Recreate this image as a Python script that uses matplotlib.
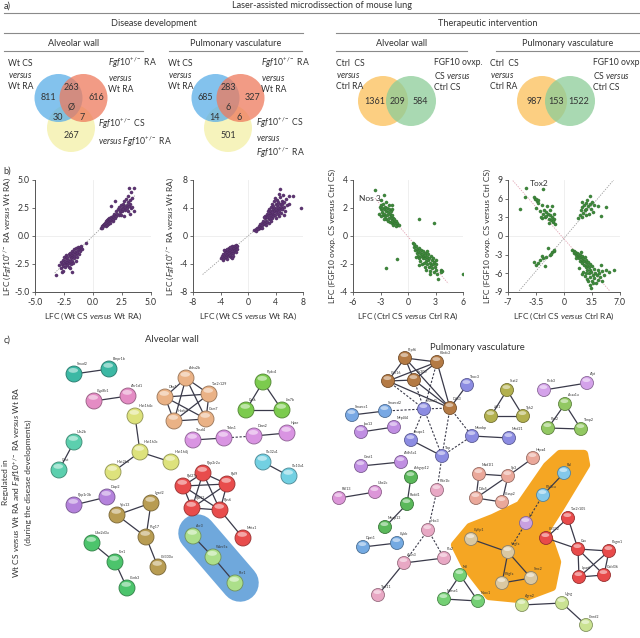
import numpy as np
import matplotlib
matplotlib.use('Agg')
import matplotlib.pyplot as plt
from matplotlib.patches import Circle, Ellipse, Polygon
from matplotlib.colors import to_rgb

plt.rcParams['font.family'] = ['Lato', 'DejaVu Sans']
plt.rcParams['mathtext.fontset'] = 'custom'
plt.rcParams['mathtext.rm'] = 'Lato'
plt.rcParams['mathtext.it'] = 'Lato:italic'
plt.rcParams['mathtext.bf'] = 'Lato:bold'

#--------------------- DATA ----------------------------------------------
# venn counts (a): [A only, A&B, B only, all, A&C, B&C, C only]
venn_alv = ['811', '263', '616', 'Ø', '30', '7', '267']
venn_pul = ['685', '283', '327', '6', '14', '6', '501']
# two-set venns: [A only, A&B, B only]
venn_ther_alv = ['1361', '209', '584']
venn_ther_pul = ['987', '153', '1522']

# scatter (b)
p1_pts = [(-3.2,-3.5),(-2.9,-2.6),(-2.8,-2.3),(-2.75,-2.9),(-2.7,-2.5),(-2.65,-3.2),(-2.6,-2.1),(-2.55,-2.7),
          (-2.5,-2.4),(-2.5,-1.9),(-2.45,-2.2),(-2.4,-2.8),(-2.35,-2.5),(-2.3,-2.0),(-2.3,-1.7),(-2.25,-2.3),
          (-2.2,-2.6),(-2.2,-1.9),(-2.15,-2.1),(-2.1,-1.6),(-2.1,-2.4),(-2.05,-2.8),(-2.0,-1.8),(-2.0,-2.2),
          (-1.95,-1.5),(-1.9,-2.0),(-1.9,-2.5),(-1.85,-1.7),(-1.8,-3.2),(-1.8,-1.3),(-1.8,-2.2),(-1.75,-1.9),
          (-1.7,-1.5),(-1.7,-2.4),(-1.65,-1.2),(-1.6,-1.8),(-1.6,-2.0),(-1.55,-1.4),(-1.5,-1.6),(-1.5,-2.2),
          (-1.45,-1.1),(-1.4,-1.3),(-1.4,-1.9),(-1.35,-1.5),(-1.3,-1.0),(-1.25,-1.2),(-1.2,-1.6),(-1.15,-0.95),
          (-1.1,-1.3),(-1.05,-1.1),(-1.0,-0.9),(-0.95,-1.2),(-0.6,-0.65),(-2.6,-3.1),(-2.0,-2.9),
          (0.65,0.7),(0.75,0.85),(0.8,0.75),(0.85,1.0),(0.9,0.9),(0.95,1.1),(1.0,0.95),(1.0,1.2),(1.05,1.05),
          (1.1,1.3),(1.1,0.9),(1.15,1.15),(1.2,1.4),(1.2,1.0),(1.25,1.25),(1.3,1.1),(1.3,1.5),(1.35,1.3),
          (1.4,1.2),(1.4,1.6),(1.45,1.4),(1.5,1.5),(1.5,1.2),(1.55,2.65),(1.55,1.7),(1.6,1.4),(1.65,1.6),
          (1.7,1.3),(1.7,1.8),(1.75,1.55),(1.8,1.7),(1.85,2.0),(1.9,3.15),(1.9,1.6),(1.95,1.9),(2.0,2.2),
          (2.0,1.75),(2.1,2.0),(2.15,2.4),(2.2,1.85),(2.25,2.6),(2.3,2.1),(2.35,2.3),(2.4,2.8),(2.45,1.9),
          (2.5,2.5),(2.5,2.2),(2.55,2.9),(2.6,2.4),(2.65,2.7),(2.7,3.1),(2.75,2.3),(2.8,2.6),(2.85,3.3),
          (2.9,2.8),(2.95,2.5),(3.0,3.0),(3.0,2.2),(3.05,3.6),(3.1,2.7),(3.1,4.25),(3.15,3.2),(3.2,2.9),
          (3.25,3.9),(3.3,2.5),(3.35,3.4),(3.4,2.6),(3.5,4.25),(3.5,2.2),(3.2,1.95),(2.7,1.8)]
p2_pts = [(-4.0,-3.2),(-3.8,-2.9),(-3.6,-2.6),(-3.5,-3.1),(-3.4,-2.2),(-3.4,-2.8),(-3.3,-2.5),(-3.2,-3.0),
          (-3.2,-2.0),(-3.1,-2.7),(-3.0,-2.3),(-3.0,-3.3),(-2.9,-1.9),(-2.9,-2.6),(-2.8,-2.2),(-2.8,-2.9),
          (-2.7,-2.4),(-2.7,-1.7),(-2.6,-2.0),(-2.6,-2.7),(-2.5,-2.3),(-2.5,-3.0),(-2.4,-1.8),(-2.4,-2.5),
          (-2.3,-2.1),(-2.3,-1.5),(-2.2,-2.4),(-2.2,-2.8),(-2.1,-1.9),(-2.1,-1.4),(-2.0,-2.2),(-2.0,-1.7),
          (-1.9,-1.5),(-1.9,-2.0),(-1.8,-1.8),(-1.8,-1.3),(-1.7,-1.6),(-1.7,-2.3),(-1.6,-1.4),(-3.5,-2.0),
          (-3.1,-1.8),(-2.6,-1.6),(-2.4,-3.1),(-3.7,-3.4),(-1.6,-1.9),
          (0.9,0.8),(1.1,1.0),(1.2,0.7),(1.3,1.2),(1.5,1.0),(1.6,1.4),(1.7,1.1),(1.8,1.7),(1.9,1.3),(2.0,1.9),
          (2.1,1.5),(2.2,2.2),(2.3,1.7),(2.4,2.5),(2.5,1.9),(2.5,2.9),(2.6,2.2),(2.7,3.2),(2.8,2.0),(2.8,2.7),
          (2.9,3.5),(3.0,2.4),(3.0,3.0),(3.1,3.8),(3.2,2.6),(3.2,3.3),(3.3,4.2),(3.3,2.1),(3.4,3.0),(3.4,3.6),
          (3.5,4.5),(3.5,2.5),(3.6,3.2),(3.6,3.9),(3.7,2.8),(3.7,4.3),(3.8,3.5),(3.8,5.0),(3.9,3.0),(3.9,4.0),
          (4.0,4.6),(4.0,2.5),(4.1,3.4),(4.1,3.9),(4.2,4.4),(4.2,5.2),(4.3,3.1),(4.3,3.7),(4.4,4.2),(4.4,4.8),
          (4.5,2.8),(4.5,3.5),(4.6,4.0),(4.6,5.5),(4.7,6.7),(4.7,4.6),(4.8,3.3),(4.8,4.2),(4.9,5.0),(5.0,3.8),
          (5.0,4.5),(5.1,5.8),(5.2,4.1),(5.3,4.9),(5.4,3.6),(5.5,5.3),(5.6,4.4),(5.9,5.7),(6.0,4.6),(6.6,5.7),
          (7.7,4.0),(2.0,1.2),(2.6,1.6),(3.1,1.9),(2.3,2.7),(3.9,5.4),(4.5,6.0),(5.2,3.0),(4.9,3.9),(3.5,3.4)]
p3_pts = [(-3.6,3.25),(-2.6,2.9),(-2.9,2.6),(-1.8,2.2),(-3.1,2.1),(-3.0,1.9),(-2.9,2.2),(-2.8,1.7),
          (-2.8,2.0),(-2.7,1.5),(-2.7,2.3),(-2.6,1.9),(-2.6,1.6),(-2.5,2.1),(-2.5,1.4),(-2.4,1.8),(-2.4,1.2),
          (-2.3,2.0),(-2.3,1.5),(-2.2,1.7),(-2.2,1.1),(-2.1,1.9),(-2.1,1.3),(-2.0,1.6),(-2.0,1.0),(-1.9,1.4),
          (-1.9,1.8),(-1.8,1.2),(-1.8,0.9),(-1.7,1.5),(-1.7,1.1),(-1.6,1.3),(-1.6,0.8),(-1.5,1.0),(-1.5,1.2),
          (-1.4,0.9),(-1.3,1.1),(-1.3,0.7),(-1.2,0.9),(-1.1,0.75),(-1.0,0.8),(-3.2,1.6),(-2.95,1.4),
          (-2.35,2.4),(-2.05,2.2),(-1.75,1.9),(-2.65,1.2),
          (0.5,-0.5),(0.6,-0.8),(0.7,-0.6),(0.8,-1.0),(0.9,-0.75),(1.0,-1.2),(1.0,-0.9),(1.1,-1.4),(1.1,-1.05),
          (1.2,-0.85),(1.2,-1.6),(1.3,-1.2),(1.3,-1.8),(1.4,-1.0),(1.4,-1.45),(1.5,-1.3),(1.5,-2.0),(1.6,-1.1),
          (1.6,-1.6),(1.7,-1.4),(1.7,-1.9),(1.8,-1.2),(1.8,-2.2),(1.9,-1.6),(1.9,-1.35),(2.0,-1.8),(2.0,-2.4),
          (2.1,-1.5),(2.1,-2.0),(2.2,-1.3),(2.2,-1.7),(2.3,-2.2),(2.3,-1.6),(2.4,-1.9),(2.4,-2.5),(2.5,-1.4),
          (2.5,-2.1),(2.6,-1.75),(2.6,-2.3),(2.7,-1.6),(2.7,-2.0),(2.8,-2.6),(2.8,-1.85),(2.9,-2.2),(3.0,-1.7),
          (3.0,-2.4),(3.1,-2.0),(3.2,-2.7),(3.3,-3.1),(3.6,-2.4),(3.7,-2.5),(3.6,-2.6),(0.9,-1.5),(1.25,-2.1),
          (2.05,-1.05),(2.35,-2.7),(6.0,-2.75),(-2.4,-2.3),(-1.2,-1.65),(1.2,1.2),(2.8,0.9)]
p4_pts = [(-4.8,7.7),(-2.6,7.6),(-4.9,6.3),(-5.5,4.4),(-3.8,6.2),(-3.6,5.9),(-3.5,6.0),(-3.4,5.6),(-3.3,5.8),
          (-3.2,5.3),(-3.5,4.5),(-3.0,4.0),(-2.8,5.0),(-2.6,3.5),(-2.5,4.2),(-2.4,3.0),(-2.3,3.8),(-2.2,3.2),
          (-2.1,4.8),(-2.0,3.5),(-1.9,2.8),(-1.8,3.3),(-1.7,4.2),(-1.6,2.5),(-1.5,3.0),(-1.4,2.2),(-1.3,3.6),
          (-1.2,2.7),(-1.1,2.0),(-2.7,2.9),(-1.9,2.1),(-1.5,4.8),(-2.9,3.1),(-1.35,2.4),
          (1.8,2.9),(2.0,3.4),(2.1,4.2),(2.2,3.0),(2.3,4.6),(2.4,3.7),(2.5,5.0),(2.6,4.1),(2.7,5.3),(2.7,3.4),
          (2.8,4.4),(2.9,5.8),(3.0,4.8),(3.1,3.5),(3.2,5.1),(3.3,6.4),(3.4,4.3),(3.5,5.5),(3.6,3.8),(4.2,4.8),
          (4.6,3.2),(5.2,4.6),(3.8,5.0),(2.2,5.4),
          (-2.0,-1.9),(-1.5,-2.6),(-1.2,-2.4),(-1.8,-3.0),(-2.2,-3.3),(-2.6,-3.6),(-3.0,-3.8),(-3.5,-4.7),
          (-3.7,-4.2),(-2.4,-4.8),(-1.6,-2.9),(-3.2,-4.4),(-2.8,-3.2),(-1.3,-2.2),
          (1.0,-2.2),(1.2,-2.4),(1.3,-2.8),(1.4,-2.5),(1.5,-3.0),(1.6,-2.7),(1.7,-3.3),(1.8,-2.9),(1.9,-3.6),
          (2.0,-3.1),(2.0,-4.0),(2.1,-3.4),(2.2,-3.8),(2.3,-3.2),(2.3,-4.3),(2.4,-3.6),(2.5,-4.6),(2.5,-4.0),
          (2.6,-3.4),(2.7,-4.2),(2.7,-5.0),(2.8,-3.8),(2.9,-4.6),(2.9,-5.5),(3.0,-4.2),(3.1,-5.0),(3.1,-6.0),
          (3.2,-4.5),(3.3,-5.4),(3.3,-6.6),(3.4,-5.8),(3.5,-4.9),(3.5,-7.2),(3.6,-6.2),(3.7,-5.3),(3.8,-6.8),
          (3.9,-5.9),(4.0,-7.5),(4.1,-6.3),(4.2,-5.5),(4.3,-7.0),(4.4,-6.0),(4.5,-6.6),(4.6,-4.6),(4.8,-5.7),
          (5.0,-6.2),(5.3,-5.5),(5.6,-5.8),(6.2,-5.5),(2.4,-5.8),(2.6,-6.4),(2.9,-6.9),(3.2,-7.8),(3.4,-8.4),
          (2.2,-6.1),(1.9,-5.1),(3.6,-7.6),(4.7,-7.2),(2.8,-6.0),(3.0,-7.3),(1.5,-3.6),(2.1,-2.6)]

# networks (c): groups of genes with their colour, then interactions
alv_groups = [('#3cb8a4', ['Smad2', 'Bmpr1b']),
              ('#e48cc4', ['Cyp8b1', 'Akr1d1']),
              ('#5ccfae', ['Uts2b', 'Gast']),
              ('#dde27c', ['Hist1h4c', 'Hist1h3c', 'Hist2h4', 'Hist1h4j']),
              ('#b482dc', ['Ppp1r3b', 'Diap2']),
              ('#b89c52', ['Vps13', 'Lgsd2', 'Psg17', 'Cd300a']),
              ('#4cc46c', ['Ube2d3a', 'Fzr1', 'Ccnb3']),
              ('#eab286', ['Adra2b', 'Dbx1', 'Tas2r129', 'Hoxb3', 'Gem7']),
              ('#7ccb4e', ['Pydc4', 'Cask', 'Lin7b']),
              ('#d994e2', ['Thsd4', 'Thbs1', 'Dmn2', 'Hpse']),
              ('#72d0e2', ['Slc32a1', 'Slc10a1']),
              ('#e84c4c', ['Ppp2r2a', 'Rpl27a', 'Rpl9', 'Rpl13', 'Rps6', 'Mets1']),
              ('#acdf8a', ['Acr3', 'Wwc5a', 'Rcr1'])]
alv_edges = [('Smad2','Bmpr1b'),('Cyp8b1','Akr1d1'),('Uts2b','Gast'),
             ('Hist1h4c','Hist1h3c'),('Hist1h3c','Hist2h4'),('Hist1h3c','Hist1h4j'),
             ('Ppp1r3b','Diap2'),('Vps13','Lgsd2'),('Vps13','Psg17'),('Lgsd2','Psg17'),('Psg17','Cd300a'),
             ('Ube2d3a','Fzr1'),('Fzr1','Ccnb3'),
             ('Adra2b','Dbx1'),('Adra2b','Tas2r129'),('Adra2b','Hoxb3'),('Adra2b','Gem7'),('Dbx1','Tas2r129'),
             ('Dbx1','Hoxb3'),('Dbx1','Gem7'),('Tas2r129','Hoxb3'),('Tas2r129','Gem7'),('Hoxb3','Gem7'),
             ('Pydc4','Cask'),('Pydc4','Lin7b'),('Cask','Lin7b'),
             ('Thsd4','Thbs1'),('Dmn2','Hpse'),('Slc32a1','Slc10a1'),
             ('Ppp2r2a','Rpl27a'),('Ppp2r2a','Rpl9'),('Ppp2r2a','Rpl13'),('Ppp2r2a','Rps6'),('Rpl27a','Rpl9'),
             ('Rpl27a','Rpl13'),('Rpl27a','Rps6'),('Rpl9','Rpl13'),('Rpl9','Rps6'),('Rpl13','Rps6'),
             ('Rps6','Mets1'),('Acr3','Wwc5a'),('Wwc5a','Rcr1')]
alv_dashed = [('Thbs1','Dmn2')]

pul_groups = [('#b47a44', ['Prpf6', 'Klhdc2', 'Cdc16', 'Ep300', 'Ddx3']),
              ('#8c8ce2', ['Psmd1', 'Snapc1', 'Tbp', 'Mcmbp', 'Med21', 'Thoc3']),
              ('#78a8e4', ['Smarcc1', 'Smarcd2']),
              ('#c08ee2', ['Ipo13', 'Mrpl44', 'Gast1', 'Aldh5a1']),
              ('#dc96d8', ['Rdl13', 'Ube2c']),
              ('#5ab85a', ['Arhgap12', 'Rbdd1', 'Mbap13']),
              ('#74aae2', ['Dpst1', 'Cybb']),
              ('#e8a8c4', ['Pde1b', 'Hoc3', 'Atxn3', 'Pla2', 'Tmt11']),
              ('#74d074', ['Nrl', 'Nurse1', 'Nacc1']),
              ('#b2b04e', ['Stat2', 'Jak1', 'Tyk2']),
              ('#d4a2ea', ['Plcb3', 'Alpi']),
              ('#92c862', ['Acaa1a', 'Pex2', 'Timp2']),
              ('#eaa89a', ['Hspa4', 'Mad1l1', 'Sp3', 'Ddx5', 'Clasp2']),
              ('#84c8ea', ['Ral', 'Pik3ca']),
              ('#c8a0e0', ['Ics']),
              ('#dac8a2', ['Cyfip1', 'Vegfa', 'Pdgfa', 'Smc2']),
              ('#e84a4a', ['Tas2r105', 'Cd322', 'Cax', 'Pogm1', 'Lpar6', 'Gold36']),
              ('#cae292', ['Agrn2', 'Ugcg', 'Cend2'])]
pul_edges = [('Prpf6','Klhdc2'),('Prpf6','Cdc16'),('Prpf6','Ep300'),('Cdc16','Ep300'),('Klhdc2','Ep300'),
             ('Klhdc2','Cdc16'),('Klhdc2','Ddx3'),('Prpf6','Ddx3'),('Ep300','Ddx3'),('Cdc16','Ddx3'),
             ('Snapc1','Tbp'),('Mcmbp','Med21'),('Smarcc1','Smarcd2'),('Ipo13','Mrpl44'),
             ('Gast1','Aldh5a1'),('Rdl13','Ube2c'),('Arhgap12','Rbdd1'),('Rbdd1','Mbap13'),('Dpst1','Cybb'),
             ('Atxn3','Pla2'),('Atxn3','Tmt11'),('Nrl','Nurse1'),('Nrl','Nacc1'),('Nurse1','Nacc1'),
             ('Stat2','Jak1'),('Stat2','Tyk2'),('Jak1','Tyk2'),('Plcb3','Alpi'),
             ('Acaa1a','Pex2'),('Acaa1a','Timp2'),('Pex2','Timp2'),
             ('Hspa4','Sp3'),('Mad1l1','Sp3'),('Mad1l1','Ddx5'),('Ddx5','Sp3'),('Sp3','Clasp2'),
             ('Ddx5','Clasp2'),('Ral','Pik3ca'),('Vegfa','Cyfip1'),('Vegfa','Pdgfa'),('Vegfa','Smc2'),
             ('Pdgfa','Smc2'),('Tas2r105','Cd322'),('Tas2r105','Cax'),('Cd322','Cax'),('Cax','Pogm1'),
             ('Cax','Lpar6'),('Cax','Gold36'),('Pogm1','Lpar6'),('Pogm1','Gold36'),('Lpar6','Gold36'),
             ('Agrn2','Ugcg'),('Ugcg','Cend2'),('Thoc3','Ddx3')]
pul_dashed = [('Cdc16','Psmd1'),('Ep300','Psmd1'),('Klhdc2','Psmd1'),('Smarcd2','Psmd1'),('Psmd1','Ddx3'),
              ('Psmd1','Snapc1'),('Psmd1','Tbp'),('Ddx3','Tbp'),('Ddx3','Mcmbp'),('Tbp','Mcmbp'),
              ('Tbp','Pde1b'),('Pde1b','Hoc3'),('Hoc3','Atxn3'),('Hoc3','Pla2'),('Pik3ca','Ics'),
              ('Ics','Vegfa')]

# node placement (figure pixels)
alv_layout = {'Smad2':(74,374),'Bmpr1b':(109,369),'Cyp8b1':(94,401),'Akr1d1':(128,396),
              'Uts2b':(74,442),'Gast':(59,470),'Hist1h4c':(135,416),'Hist1h3c':(140,452),
              'Hist2h4':(113,472),'Hist1h4j':(171,462),'Ppp1r3b':(74,505),'Diap2':(107,497),
              'Vps13':(117,515),'Lgsd2':(151,503),'Psg17':(146,537),'Cd300a':(158,567),
              'Ube2d3a':(92,543),'Fzr1':(115,562),'Ccnb3':(127,588),
              'Adra2b':(186,378),'Dbx1':(165,397),'Tas2r129':(209,394),'Hoxb3':(174,421),'Gem7':(206,419),
              'Pydc4':(263,382),'Cask':(246,410),'Lin7b':(282,410),
              'Thsd4':(193,440),'Thbs1':(224,438),'Dmn2':(254,436),'Hpse':(287,433),
              'Slc32a1':(263,462),'Slc10a1':(289,476),
              'Ppp2r2a':(203,473),'Rpl27a':(183,486),'Rpl9':(227,484),'Rpl13':(192,508),'Rps6':(220,510),
              'Mets1':(243,538),'Acr3':(193,536),'Wwc5a':(213,557),'Rcr1':(235,583)}
pul_layout = {'Prpf6':(405,358),'Klhdc2':(437,362),'Cdc16':(388,381),'Ep300':(414,380),'Ddx3':(450,408),
              'Psmd1':(424,409),'Snapc1':(411,440),'Tbp':(442,456),'Mcmbp':(472,436),'Med21':(509,438),
              'Thoc3':(467,385),'Smarcc1':(352,415),'Smarcd2':(385,411),'Ipo13':(361,432),'Mrpl44':(394,427),
              'Gast1':(361,466),'Aldh5a1':(401,462),'Rdl13':(339,498),'Ube2c':(375,492),
              'Arhgap12':(411,477),'Rbdd1':(407,504),'Mbap13':(385,527),'Dpst1':(363,547),'Cybb':(397,543),
              'Pde1b':(437,490),'Hoc3':(428,530),'Atxn3':(404,563),'Pla2':(444,558),'Tmt11':(378,595),
              'Nrl':(460,575),'Nurse1':(444,599),'Nacc1':(478,601),
              'Stat2':(507,390),'Jak1':(491,416),'Tyk2':(523,416),'Plcb3':(544,390),'Alpi':(587,383),
              'Acaa1a':(565,404),'Pex2':(548,428),'Timp2':(581,429),
              'Hspa4':(533,458),'Mad1l1':(479,474),'Sp3':(508,476),'Ddx5':(476,498),'Clasp2':(502,502),
              'Ral':(564,473),'Pik3ca':(543,495),'Ics':(526,523),'Cyfip1':(471,539),'Vegfa':(508,552),
              'Pdgfa':(502,583),'Smc2':(531,578),
              'Tas2r105':(568,518),'Cd322':(546,538),'Cax':(578,549),'Pogm1':(609,551),'Lpar6':(579,577),
              'Gold36':(604,575),'Agrn2':(522,605),'Ugcg':(562,603),'Cend2':(586,625)}

#---------------------FUNCTIONS ----------------------------------------------
def darker(c, f=0.65):
    return tuple(v * f for v in to_rgb(c))

def sphere(ax, x, y, r, c):
    ax.add_patch(Circle((x, y), r, fc=c, ec=darker(c), lw=0.6, zorder=4))
    ax.add_patch(Ellipse((x - 0.1 * r, y - 0.45 * r), 1.2 * r, 0.6 * r, fc='white', alpha=0.5, ec='none', zorder=5))

def draw_network(ax, groups, layout, edges, dashed, r):
    for a, b in edges:
        (x1, y1), (x2, y2) = layout[a], layout[b]
        ax.plot([x1, x2], [y1, y2], color='#3a3a4a', lw=0.9, zorder=3)
    for a, b in dashed:
        (x1, y1), (x2, y2) = layout[a], layout[b]
        ax.plot([x1, x2], [y1, y2], color='#3a3a4a', lw=0.8, ls=(0, (2, 1.5)), zorder=3)
    for col, names in groups:
        for n in names:
            x, y = layout[n]
            sphere(ax, x, y, r, col)
            ax.text(x + 0.4 * r, y - r - 1, n, fontsize=2.6, color='#333', zorder=6)

def header(ax, x0, x1, y, text, ty):
    ax.plot([x0, x1], [y, y], color='#8a8a8a', lw=0.8)
    ax.text((x0 + x1) / 2, ty, text, ha='center', va='center', fontsize=6.6, color='#333')

def scatter_panel(rect, pts, col, lim, ticks, ticklabels):
    ax = fig.add_axes([rect[0] / 640, 1 - rect[3] / 638, (rect[1] - rect[0]) / 640, (rect[3] - rect[2]) / 638])
    pts = np.array(pts)
    ax.axhline(0, color='#ececec', lw=0.6, zorder=0)
    ax.axvline(0, color='#ececec', lw=0.6, zorder=0)
    ax.scatter(pts[:, 0], pts[:, 1], s=5, color=col, edgecolor=darker(col, 0.8), lw=0.3, zorder=3)
    ax.set_xlim(-lim[0], lim[0])
    ax.set_ylim(-lim[1], lim[1])
    ax.set_xticks(ticks[0])
    ax.set_xticklabels(ticklabels[0])
    ax.set_yticks(ticks[1])
    ax.set_yticklabels(ticklabels[1])
    for s in ['top', 'right']:
        ax.spines[s].set_visible(False)
    for s in ['left', 'bottom']:
        ax.spines[s].set_color('#555')
        ax.spines[s].set_linewidth(0.7)
    ax.tick_params(labelsize=6.2, length=2.5, width=0.6, colors='#555', labelcolor='#333', pad=1.5)
    return ax

#--------------------- FIGURE ----------------------------------------------
fig = plt.figure(figsize=(6.4, 6.38), dpi=100)
base = fig.add_axes([0, 0, 1, 1])
base.set_xlim(0, 640)
base.set_ylim(638, 0)
base.axis('off')

# a) headers
base.text(4, 6, 'a)', fontsize=6.6, va='center', color='#333')
header(base, 4, 640, 13, 'Laser-assisted microdissection of mouse lung', 5)
header(base, 4, 303, 33, 'Disease development', 24)
header(base, 336, 640, 33, 'Therapeutic intervention', 24)
header(base, 4, 143, 51, 'Alveolar wall', 43)
header(base, 169, 302, 51, 'Pulmonary vasculature', 43)
header(base, 336, 467, 51, 'Alveolar wall', 43)
header(base, 496, 640, 51, 'Pulmonary vasculature', 43)

# three-set venns
def venn3(cx, counts):
    r = 24
    for (dx, dy), c in zip([(0, 30), (-12.5, 0), (12.5, 0)], ['#f4f0a6', '#5aaee8', '#ee7a5c']):
        base.add_patch(Circle((cx + dx, 98 + dy), r, fc=c, ec='none', alpha=0.75))
    offs = [(-23, 0), (0, -10), (25, 0), (0, 9), (-13, 19), (11, 19), (0, 37)]
    for (dx, dy), t in zip(offs, counts):
        base.text(cx + dx, 98 + dy, t, ha='center', va='center', fontsize=6.5, color='#333')

venn3(71, venn_alv)
venn3(228, venn_pul)

def venn2(cx, counts):
    for dx, c in zip([-14, 14], ['#fcc058', '#8ccd98']):
        base.add_patch(Circle((cx + dx, 101), 25, fc=c, ec='none', alpha=0.75))
    for dx, t in zip([-22, 0, 23], counts):
        base.text(cx + dx, 101, t, ha='center', va='center', fontsize=6.5, color='#333')

venn2(397, venn_ther_alv)
venn2(556, venn_ther_pul)

vfs = 6.2
kw = dict(fontsize=vfs, va='center', linespacing=1.3, color='#333')
base.text(8, 75, 'Wt CS\n$\\mathit{versus}$\nWt RA', **kw)
base.text(108, 75, '$\\mathit{Fgf10}^{+/-}$ RA\n$\\mathit{versus}$\nWt RA', **kw)
base.text(98, 133, '$\\mathit{Fgf10}^{+/-}$ CS\n$\\mathit{versus\\ Fgf10}^{+/-}$ RA', **kw)
base.text(168, 75, 'Wt CS\n$\\mathit{versus}$\nWt RA', **kw)
base.text(261, 75, '$\\mathit{Fgf10}^{+/-}$ RA\n$\\mathit{versus}$\nWt RA', **kw)
base.text(256, 138, '$\\mathit{Fgf10}^{+/-}$ CS\n$\\mathit{versus}$\n$\\mathit{Fgf10}^{+/-}$ RA', **kw)
base.text(336, 75, 'Ctrl  CS\n$\\mathit{versus}$\nCtrl RA', **kw)
base.text(434, 75, 'FGF10 ovxp.\nCS $\\mathit{versus}$\nCtrl CS', **kw)
base.text(490, 75, 'Ctrl  CS\n$\\mathit{versus}$\nCtrl RA', **kw)
base.text(593, 75, 'FGF10 ovxp.\nCS $\\mathit{versus}$\nCtrl CS', **kw)

# b) scatter panels
base.text(3, 171, 'b)', fontsize=6.6, va='center', color='#333')
purple = '#5e3474'
green = '#3e8a3c'
lfs = 6.0
ax1 = scatter_panel((35, 151, 180, 292), p1_pts, purple, (5, 5),
                    ([-5, -2.5, 0, 2.5, 5], [-5, -2.5, 0, 2.5, 5]),
                    (['-5.0', '-2.5', '0.0', '2.5', '5.0'], ['-5.0', '-2.5', '0.0', '2.5', '5.0']))
ax1.plot([-3.3, 3.6], [-3.3, 3.6], color='#999', lw=0.6, ls=(0, (1.5, 1.5)), zorder=2)
ax1.set_xlabel('LFC (Wt CS $\\mathit{versus}$ Wt RA)', fontsize=lfs, color='#333', labelpad=3)
ax1.set_ylabel('LFC ($\\mathit{Fgf10}^{+/-}$ RA $\\mathit{versus}$ Wt RA)', fontsize=lfs, color='#333', labelpad=1)

ax2 = scatter_panel((193, 303, 180, 292), p2_pts, purple, (8, 8),
                    ([-8, -4, 0, 4, 8], [-8, -4, 0, 4, 8]),
                    (['-8', '-4', '0', '4', '8'], ['-8', '-4', '0', '4', '8']))
ax2.plot([-6.6, 5.5], [-5.5, 4.6], color='#999', lw=0.6, ls=(0, (1.5, 1.5)), zorder=2)
ax2.set_xlabel('LFC (Wt CS $\\mathit{versus}$ Wt RA)', fontsize=lfs, color='#333', labelpad=3)
ax2.set_ylabel('LFC ($\\mathit{Fgf10}^{+/-}$ RA $\\mathit{versus}$ Wt RA)', fontsize=lfs, color='#333', labelpad=2)

ax3 = scatter_panel((353, 463, 180, 292), p3_pts, green, (6, 4),
                    ([-6, -3, 0, 3, 6], [-4, -2, 0, 2, 4]),
                    (['-6', '-3', '0', '3', '6'], ['-4', '-2', '0', '2', '4']))
ax3.plot([-3.6, 4.4], [2.7, -3.4], color='#e0a0b0', lw=0.6, ls=(0, (1.5, 1.5)), zorder=2)
ax3.text(-5.3, 2.7, 'Nos 3', fontsize=6.0, color='#333', va='center')
ax3.set_xlabel('LFC (Ctrl CS $\\mathit{versus}$ Ctrl RA)', fontsize=lfs, color='#333', labelpad=3)
ax3.set_ylabel('LFC (FGF10 ovxp. CS versus Ctrl CS)', fontsize=lfs, color='#333', labelpad=2)

ax4 = scatter_panel((508, 620, 180, 292), p4_pts, green, (7, 9),
                    ([-7, -3.5, 0, 3.5, 7], [-9, -6, -3, 0, 3, 6, 9]),
                    (['-7', '-3.5', '0', '3.5', '7.0'], ['-9', '-6', '-3', '0', '3', '6', '9']))
ax4.plot([-6.4, 5.7], [8.9, -8.8], color='#e0a0b0', lw=0.6, ls=(0, (1.5, 1.5)), zorder=2)
ax4.plot([-5.6, 6.2], [-8.8, 9.0], color='#999', lw=0.6, ls=(0, (1.5, 1.5)), zorder=2)
ax4.text(-4.3, 8.4, 'Tox2', fontsize=6.0, color='#333', va='center')
ax4.set_xlabel('LFC (Ctrl CS $\\mathit{versus}$ Ctrl RA)', fontsize=lfs, color='#333', labelpad=3)
ax4.set_ylabel('LFC (FGF10 ovxp. CS versus Ctrl CS)', fontsize=lfs, color='#333', labelpad=2)

# c) networks
base.text(4, 340, 'c)', fontsize=6.6, va='center', color='#333')
base.text(172, 340, 'Alveolar wall', fontsize=6.8, ha='center', va='center', color='#333')
base.text(477, 348, 'Pulmonary vasculature', fontsize=6.8, ha='center', va='center', color='#333')
base.text(17, 482, 'Regulated in\nWt CS $\\mathit{versus}$ Wt RA and $\\mathit{Fgf10}^{+/-}$ RA $\\mathit{versus}$ Wt RA\n(during the disease developments)',
          fontsize=6.0, rotation=90, ha='center', va='center', multialignment='center', linespacing=1.25, color='#333')

# highlight blobs
base.plot([197, 240], [533, 583], color='#6fa8dc', lw=27, solid_capstyle='round', zorder=1)
blob = [(455, 545), (470, 527), (493, 518), (520, 505), (547, 466), (560, 454), (584, 454), (586, 465),
        (560, 508), (546, 530), (557, 562), (552, 587), (520, 599), (489, 596), (465, 565)]
base.add_patch(Polygon(blob, closed=True, fc='#f5a623', ec='#f5a623', lw=6, joinstyle='round', zorder=1))

draw_network(base, alv_groups, alv_layout, alv_edges, alv_dashed, 8)
draw_network(base, pul_groups, pul_layout, pul_edges, pul_dashed, 6.5)

fig.savefig('out.png', dpi=100)
